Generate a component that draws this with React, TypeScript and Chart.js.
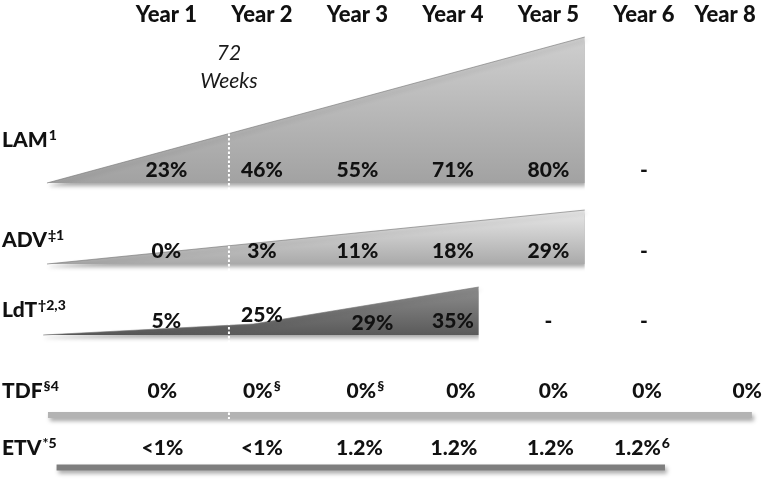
import React, { useEffect, useRef } from 'react';
import { Chart, registerables } from 'chart.js';

// ---------- data ----------
const yearLabels = ['Year 1', 'Year 2', 'Year 3', 'Year 4', 'Year 5', 'Year 6', 'Year 8'];
const yearColumns = [1, 2, 3, 4, 5, 6, 6.85];
const drugNames = ['LAM', 'ADV', 'LdT', 'TDF', 'ETV'];
const drugRefs = ['1', '‡1', '†2,3', '§4', '*5'];

const lamResistance = ['23%', '46%', '55%', '71%', '80%', '-', ''];
const advResistance = ['0%', '3%', '11%', '18%', '29%', '-', ''];
const ldtResistance = ['5%', '25%', '29%', '35%', '-', '-', ''];
const tdfResistance = ['0%', '0%', '0%', '0%', '0%', '0%', '0%'];
const tdfRefs = ['', '§', '§', '', '', '', ''];
const etvResistance = ['<1%', '<1%', '1.2%', '1.2%', '1.2%', '1.2%', ''];
const etvRefs = ['', '', '', '', '', '6', ''];

// wedge profiles: [column, resistance %]
const lamWedge: [number, number][] = [[-0.25, 0], [5.38, 80]];
const advWedge: [number, number][] = [[-0.25, 0], [5.38, 29]];
const ldtWedge: [number, number][] = [[-0.29, 0], [1.91, 8], [4.27, 35]];
const tdfBarSpan = [-0.24, 7.13];
const etvBarSpan = [-0.15, 6.22];
const weekMarkColumn = 1.655;
const weekMarkLabel = ['72', 'Weeks'];

// ---------- layout / style ----------
const FONT = 'Lato, "Open Sans", sans-serif';
const WEIGHT = '900';
const X_MIN = -0.742;
const X_MAX = 7.288;
const HEAD_BASE = 22;
const ROW = {
  LAM: { base: 183, text: 177, label: 147, k: 1.825, c1: '#cfcfcf', c2: '#a2a2a2' },
  ADV: { base: 264, text: 258, label: 247, k: 1.86, c1: '#e8e8e8', c2: '#aaaaaa' },
  LdT: { base: 335, text: 328, label: 317, k: 1.371, c1: '#8e8e8e', c2: '#5a5a5a' },
  TDF: { base: 415, text: 398, label: 398 },
  ETV: { base: 467.5, text: 455, label: 455 },
};
const ldtNudge = [[0, 0], [0, -6], [15, 2], [0, 0], [0, 0], [0, 0], [0, 0]];
const tdfNudge = [-4, 0, 8, 8, 5, 3, 22];
const etvNudge = [-4, 0, 2, 1, 2, -2, 0];
const SHADOW = { color: 'rgba(0,0,0,0.35)', blur: 4, x: 2, y: 3 };

const shadowPlugin = {
  id: 'shapeShadow',
  beforeDatasetDraw(chart: any, args: any) {
    const ds: any = chart.data.datasets[args.index];
    if (!ds.shadow) return;
    const ctx = chart.ctx;
    ctx.save();
    ctx.shadowColor = ds.shadow.color;
    ctx.shadowBlur = ds.shadow.blur;
    ctx.shadowOffsetX = ds.shadow.x;
    ctx.shadowOffsetY = ds.shadow.y;
  },
  afterDatasetDraw(chart: any, args: any) {
    const ds: any = chart.data.datasets[args.index];
    if (!ds.shadow) return;
    chart.ctx.restore();
  },
};
Chart.register(shadowPlugin as any);
Chart.register(...registerables);

function wedgeDataset(profile: [number, number][], row: any) {
  const maxPct = Math.max(...profile.map((p) => p[1]));
  const topY = row.base - maxPct * row.k;
  return {
    type: 'line',
    data: profile.map(([c, p]) => ({ x: c, y: row.base - p * row.k })),
    fill: { value: row.base },
    backgroundColor: (ctx: any) => {
      const ch = ctx.chart;
      if (!ch.chartArea) return row.c2;
      const ys = ch.scales.y;
      const g = ch.ctx.createLinearGradient(0, ys.getPixelForValue(topY), 0, ys.getPixelForValue(row.base));
      g.addColorStop(0, row.c1);
      g.addColorStop(1, row.c2);
      return g;
    },
    borderColor: 'rgba(115,115,115,0.6)',
    borderWidth: 1,
    pointRadius: 0,
    tension: 0,
    order: 3,
    shadow: SHADOW,
  };
}

function barDataset(span: number[], base: number, color: string) {
  return {
    type: 'line',
    data: [{ x: span[0], y: base }, { x: span[1], y: base }],
    fill: false,
    borderColor: color,
    borderWidth: 6,
    borderCapStyle: 'butt',
    pointRadius: 0,
    order: 3,
    shadow: SHADOW,
  };
}

function interp(profile: [number, number][], c: number) {
  for (let i = 1; i < profile.length; i++) {
    const [c0, p0] = profile[i - 1];
    const [c1, p1] = profile[i];
    if (c >= c0 && c <= c1) return p0 + ((c - c0) / (c1 - c0)) * (p1 - p0);
  }
  return 0;
}

function drawComposite(ctx: any, main: string, sup: string, x: number, y: number, size: number, align: string) {
  const w = WEIGHT + ' ';
  ctx.font = `${w}${size}px ${FONT}`;
  const w1 = ctx.measureText(main).width;
  const supSize = 14;
  ctx.font = `${w}${supSize}px ${FONT}`;
  const w2 = sup ? ctx.measureText(sup).width + 1 : 0;
  const left = align === 'center' ? x - (w1 + w2) / 2 : x;
  ctx.textAlign = 'left';
  ctx.font = `${w}${size}px ${FONT}`;
  ctx.fillText(main, left, y);
  if (sup) {
    ctx.font = `${w}${supSize}px ${FONT}`;
    ctx.fillText(sup, left + w1 + 1, y - 7);
  }
}

const textPlugin = {
  id: 'tableText',
  afterDatasetsDraw(chart: any) {
    const { ctx, scales, chartArea } = chart;
    const xs = scales.x;
    const ys = scales.y;
    const px = (c: number) => xs.getPixelForValue(c);
    const py = (v: number) => ys.getPixelForValue(v);
    ctx.save();
    ctx.fillStyle = '#111111';
    ctx.textBaseline = 'alphabetic';

    // header
    ctx.font = `${WEIGHT} 22px ${FONT}`;
    ctx.textAlign = 'center';
    yearLabels.forEach((t, i) => ctx.fillText(t, px(yearColumns[i]), py(HEAD_BASE)));

    // 72 weeks
    ctx.font = `italic 21px ${FONT}`;
    ctx.fillStyle = '#1a1a1a';
    ctx.fillText(weekMarkLabel[0], px(weekMarkColumn), py(60));
    ctx.fillText(weekMarkLabel[1], px(weekMarkColumn), py(88));
    ctx.fillStyle = '#111111';

    // row labels
    const rows = [ROW.LAM, ROW.ADV, ROW.LdT, ROW.TDF, ROW.ETV];
    drugNames.forEach((n, i) => {
      drawComposite(ctx, n, drugRefs[i], chartArea.left + 2, py(rows[i].label), 21, 'left');
    });

    const cellRow = (vals: string[], refs: string[] | null, row: any, nudge: (i: number) => [number, number]) => {
      vals.forEach((v, i) => {
        if (!v) return;
        const [dx, dy] = nudge(i);
        drawComposite(ctx, v, refs ? refs[i] : '', px(yearColumns[i]) + dx, py(row.text + dy), 21, 'center');
      });
    };
    cellRow(lamResistance, null, ROW.LAM, () => [0, 0]);
    cellRow(advResistance, null, ROW.ADV, () => [0, 0]);
    cellRow(ldtResistance, null, ROW.LdT, (i) => ldtNudge[i] as [number, number]);
    cellRow(tdfResistance, tdfRefs, ROW.TDF, (i) => [tdfNudge[i], 0]);
    cellRow(etvResistance, etvRefs, ROW.ETV, (i) => [etvNudge[i], 0]);
    ctx.restore();
  },
};

export default function App() {
  const ref = useRef<HTMLCanvasElement | null>(null);
  useEffect(() => {
    if (!ref.current) return;
    const markTop = ROW.LAM.base - interp(lamWedge, weekMarkColumn) * ROW.LAM.k;
    const chart = new Chart(ref.current, {
      type: 'line',
      data: {
        datasets: [
          {
            type: 'line',
            data: [{ x: weekMarkColumn, y: markTop }, { x: weekMarkColumn, y: ROW.TDF.base + 4 }],
            borderColor: '#ffffff',
            borderWidth: 2,
            borderDash: [2.5, 2],
            pointRadius: 0,
            fill: false,
            order: 1,
          } as any,
          wedgeDataset(lamWedge, ROW.LAM) as any,
          wedgeDataset(advWedge, ROW.ADV) as any,
          wedgeDataset(ldtWedge, ROW.LdT) as any,
          barDataset(tdfBarSpan, ROW.TDF.base, '#b3b3b3') as any,
          barDataset(etvBarSpan, ROW.ETV.base, '#7e7e7e') as any,
        ],
      },
      options: {
        animation: false,
        responsive: true,
        maintainAspectRatio: false,
        layout: { padding: 0 },
        plugins: { legend: { display: false }, tooltip: { enabled: false } },
        events: [],
        scales: {
          x: { type: 'linear', min: X_MIN, max: X_MAX, display: false },
          y: { type: 'linear', min: 0, max: 479, reverse: true, display: false },
        },
      },
      plugins: [textPlugin as any],
    });
    return () => chart.destroy();
  }, []);
  return (
    <div style={{ position: 'absolute', left: 0, top: 0, width: 767, height: 479, background: '#fff' }}>
      <canvas ref={ref} />
    </div>
  );
}
